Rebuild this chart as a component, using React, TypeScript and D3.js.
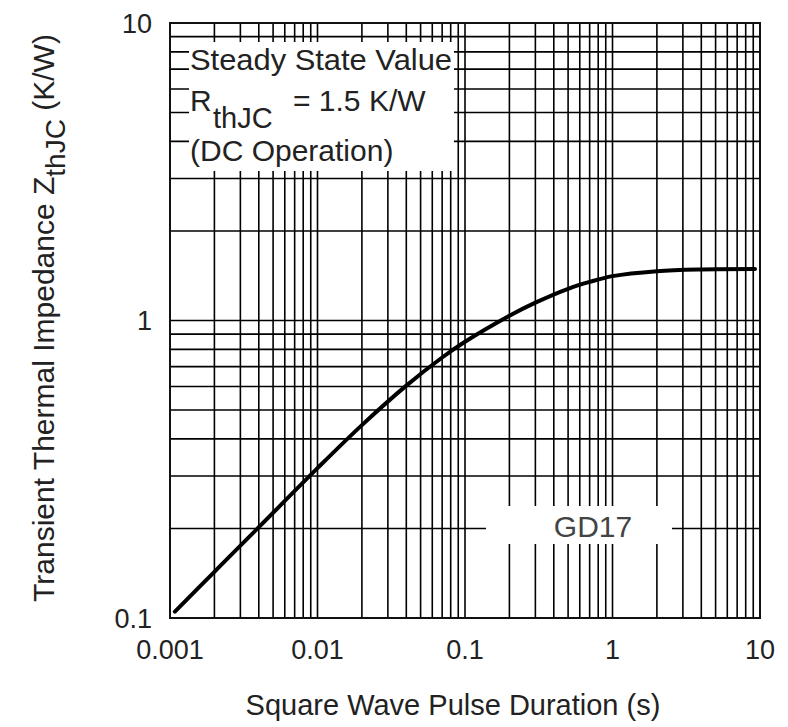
import React from "react";
import * as d3 from "d3";

const pulseDuration = [0.00108, 0.002, 0.004, 0.01, 0.02, 0.04, 0.07, 0.1, 0.2, 0.3, 0.5, 0.7, 1, 2, 4, 9.25];
const impedance = [0.105, 0.143, 0.202, 0.319, 0.445, 0.604, 0.751, 0.848, 1.037, 1.148, 1.278, 1.348, 1.41, 1.465, 1.485, 1.49];

const xTickValues = [0.001, 0.01, 0.1, 1, 10];
const xTickLabels = ["0.001", "0.01", "0.1", "1", "10"];
const yTickValues = [0.1, 1, 10];
const yTickLabels = ["0.1", "1", "10"];

const W = 788, H = 727;
const M = { left: 170, top: 23, right: 28, bottom: 109 };
const FONT = "'Liberation Sans', Arial, sans-serif";

export default function App() {
  const x = d3.scaleLog().domain([0.001, 10]).range([M.left, W - M.right]);
  const y = d3.scaleLog().domain([0.1, 10]).range([H - M.bottom, M.top]);

  const xGrid: number[] = [];
  for (let e = -3; e < 1; e++) for (let m = 1; m <= 9; m++) xGrid.push(m * Math.pow(10, e));
  const yGrid: number[] = [];
  for (let e = -1; e < 1; e++) for (let m = 1; m <= 9; m++) yGrid.push(m * Math.pow(10, e));

  const pts = pulseDuration.map((d, i) => [d, impedance[i]] as [number, number]);
  const line = d3.line<[number, number]>().x(d => x(d[0])).y(d => y(d[1])).curve(d3.curveCatmullRom.alpha(0.5));

  const x0 = x(0.001), x1 = x(10), y0 = y(0.1), y1 = y(10);

  return (
    <svg width={W} height={H} style={{ position: "absolute", left: 0, top: 0, background: "#fff" }} fontFamily={FONT}>
      <rect x={0} y={0} width={W} height={H} fill="#fff" />
      {xGrid.map((v, i) => (
        <line key={"gx" + i} x1={x(v)} x2={x(v)} y1={y0} y2={y1} stroke="#000" strokeWidth={1.6} />
      ))}
      {yGrid.map((v, i) => (
        <line key={"gy" + i} x1={x0} x2={x1} y1={y(v)} y2={y(v)} stroke="#000" strokeWidth={1.6} />
      ))}
      {/* annotation masks */}
      <rect x={189} y={42} width={265} height={129} fill="#fff" />
      <rect x={486} y={506} width={186} height={38} fill="#fff" />
      <path d={line(pts) || ""} fill="none" stroke="#000" strokeWidth={4} strokeLinecap="round" />
      <rect x={x0} y={y1} width={x1 - x0} height={y0 - y1} fill="none" stroke="#111" strokeWidth={2} />

      {/* annotation text */}
      <text x={190} y={70} fontSize={30} fill="#222" textLength={262} lengthAdjust="spacingAndGlyphs">Steady State Value</text>
      <text x={190} y={111} fontSize={30} fill="#222">R</text>
      <text x={213} y={128} fontSize={29} fill="#222">thJC</text>
      <text x={293} y={111} fontSize={30} fill="#222">= 1.5 K/W</text>
      <text x={190} y={161} fontSize={30} fill="#222">(DC Operation)</text>
      <text x={593} y={537} fontSize={30} fill="#444" textAnchor="middle">GD17</text>

      {/* ticks */}
      {xTickValues.map((v, i) => (
        <text key={"xt" + i} x={x(v)} y={659} fontSize={27} fill="#222" textAnchor="middle">{xTickLabels[i]}</text>
      ))}
      {yTickValues.map((v, i) => (
        <text key={"yt" + i} x={152} y={y(v)} dy="0.36em" fontSize={27} fill="#222" textAnchor="end">{yTickLabels[i]}</text>
      ))}

      {/* axis titles */}
      <text x={453} y={715} fontSize={29} fill="#222" textAnchor="middle">Square Wave Pulse Duration (s)</text>
      <text transform="translate(54,318) rotate(-90)" fontSize={30} fill="#222" textAnchor="middle">
        Transient Thermal Impedance Z
        <tspan fontSize={28} dy={11}>thJC</tspan>
        <tspan dy={-11}>{"\u00A0(K/W)"}</tspan>
      </text>
    </svg>
  );
}
